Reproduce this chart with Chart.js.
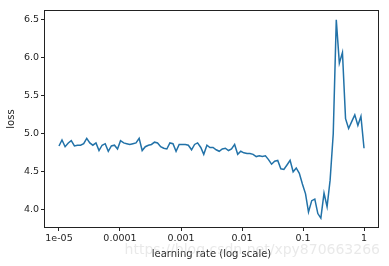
<!DOCTYPE html>
<html>
<head>
<meta charset="utf-8">
<script src="https://cdn.jsdelivr.net/npm/chart.js@4/dist/chart.umd.min.js"></script>
<style>
  html, body { margin: 0; padding: 0; background: #fff; }
  #c { display: block; }
</style>
</head>
<body>
<canvas id="c" width="389" height="266"></canvas>
<script>
// learning rates (x)
const learningRates = [
  1.00e-5, 1.12e-5, 1.26e-5, 1.42e-5, 1.59e-5, 1.79e-5, 2.01e-5, 2.26e-5, 2.54e-5, 2.85e-5,
  3.20e-5, 3.59e-5, 4.04e-5, 4.53e-5, 5.09e-5, 5.72e-5, 6.43e-5, 7.22e-5, 8.11e-5, 9.11e-5,
  1.02e-4, 1.15e-4, 1.29e-4, 1.45e-4, 1.63e-4, 1.83e-4, 2.06e-4, 2.31e-4, 2.60e-4, 2.92e-4,
  3.28e-4, 3.68e-4, 4.13e-4, 4.64e-4, 5.21e-4, 5.86e-4, 6.58e-4, 7.39e-4, 8.30e-4, 9.33e-4,
  1.05e-3, 1.18e-3, 1.32e-3, 1.49e-3, 1.67e-3, 1.87e-3, 2.11e-3, 2.36e-3, 2.66e-3, 2.98e-3,
  3.35e-3, 3.77e-3, 4.23e-3, 4.75e-3, 5.34e-3, 6.00e-3, 6.73e-3, 7.57e-3, 8.50e-3, 9.55e-3,
  1.07e-2, 1.21e-2, 1.35e-2, 1.52e-2, 1.71e-2, 1.92e-2, 2.15e-2, 2.42e-2, 2.72e-2, 3.05e-2,
  3.43e-2, 3.85e-2, 4.33e-2, 4.86e-2, 5.46e-2, 6.14e-2, 6.89e-2, 7.74e-2, 8.70e-2, 9.77e-2,
  1.10e-1, 1.23e-1, 1.39e-1, 1.56e-1, 1.75e-1, 1.96e-1, 2.21e-1, 2.48e-1, 2.78e-1, 3.13e-1,
  3.51e-1, 3.94e-1, 4.43e-1, 4.98e-1, 5.59e-1, 6.28e-1, 7.06e-1, 7.93e-1, 8.90e-1, 1.00
];
// loss values (y)
const lossValues = [
  4.84, 4.92, 4.83, 4.88, 4.91, 4.84, 4.85, 4.85, 4.87, 4.94,
  4.88, 4.85, 4.88, 4.78, 4.85, 4.87, 4.77, 4.84, 4.85, 4.80,
  4.91, 4.88, 4.87, 4.86, 4.87, 4.88, 4.94, 4.78, 4.83, 4.85,
  4.86, 4.89, 4.88, 4.83, 4.81, 4.80, 4.88, 4.87, 4.77, 4.86,
  4.86, 4.86, 4.85, 4.79, 4.86, 4.88, 4.82, 4.73, 4.85, 4.82,
  4.82, 4.79, 4.77, 4.80, 4.81, 4.78, 4.80, 4.86, 4.73, 4.77,
  4.75, 4.74, 4.74, 4.73, 4.70, 4.71, 4.70, 4.71, 4.66, 4.60,
  4.64, 4.65, 4.54, 4.53, 4.59, 4.65, 4.50, 4.55, 4.48, 4.34,
  4.21, 3.97, 4.12, 4.14, 3.95, 3.89, 4.22, 4.04, 4.39, 5.00,
  6.50, 5.93, 6.07, 5.20, 5.07, 5.16, 5.25, 5.11, 5.23, 4.81
];
const xTickValues = [1e-5, 1e-4, 1e-3, 1e-2, 1e-1, 1];
const xTickLabels = ['1e-05', '0.0001', '0.001', '0.01', '0.1', '1'];
const yTickValues = [4.0, 4.5, 5.0, 5.5, 6.0, 6.5];
const yTickLabels = ['4.0', '4.5', '5.0', '5.5', '6.0', '6.5'];
const xAxisTitle = 'learning rate (log scale)';
const yAxisTitle = 'loss';
const watermark = 'https://blog.csdn.net/xpy870663266';

const FONT = 'DejaVu Sans';
const TXT = '#1e1e1e';

const frame = {
  id: 'frame',
  afterDatasetsDraw(chart) {
    const a = chart.chartArea, ctx = chart.ctx;
    ctx.save();
    ctx.strokeStyle = '#222';
    ctx.lineWidth = 1;
    ctx.strokeRect(Math.round(a.left) + 0.5, Math.round(a.top) + 0.5,
                   Math.round(a.right - a.left) - 1, Math.round(a.bottom - a.top) - 1);
    ctx.restore();
  },
  afterDraw(chart) {
    const ctx = chart.ctx;
    ctx.save();
    ctx.globalAlpha = 0.4;
    ctx.fillStyle = '#c8c8c8';
    ctx.font = '14px "DejaVu Sans"';
    ctx.textAlign = 'right';
    ctx.textBaseline = 'middle';
    ctx.fillText(watermark, 380, 250);
    ctx.restore();
  }
};

new Chart(document.getElementById('c'), {
  type: 'line',
  data: {
    datasets: [{
      data: learningRates.map((x, i) => ({ x: x, y: lossValues[i] })),
      borderColor: '#2272a8',
      borderWidth: 1.5,
      pointRadius: 0,
      tension: 0,
      fill: false
    }]
  },
  options: {
    responsive: false,
    animation: false,
    devicePixelRatio: 1,
    layout: { padding: { top: 10, right: 10, left: 0, bottom: 0 } },
    plugins: { legend: { display: false }, tooltip: { enabled: false } },
    scales: {
      x: {
        type: 'logarithmic',
        min: 5.68e-6,
        max: 1.76,
        afterBuildTicks: s => { s.ticks = xTickValues.map(v => ({ value: v })); },
        afterFit: s => { s.height = 38; },
        border: { display: false },
        grid: { display: true, drawOnChartArea: false, drawTicks: true, tickLength: 3, color: '#222', lineWidth: 1 },
        ticks: {
          autoSkip: false, maxRotation: 0, padding: 2, color: TXT,
          font: { family: FONT, size: 9.5 },
          callback: v => {
            const i = xTickValues.findIndex(t => Math.abs(Math.log10(t) - Math.log10(v)) < 1e-6);
            return i >= 0 ? xTickLabels[i] : '';
          }
        },
        title: { display: true, text: xAxisTitle, color: TXT, font: { family: FONT, size: 10 }, padding: { top: 0, bottom: 6 } }
      },
      y: {
        type: 'linear',
        min: 3.76,
        max: 6.63,
        afterBuildTicks: s => { s.ticks = yTickValues.map(v => ({ value: v })); },
        afterFit: s => { s.width = 44; },
        border: { display: false },
        grid: { display: true, drawOnChartArea: false, drawTicks: true, tickLength: 3, color: '#222', lineWidth: 1 },
        ticks: {
          autoSkip: false, padding: 2, color: TXT,
          font: { family: FONT, size: 9.5 },
          callback: v => {
            const i = yTickValues.findIndex(t => Math.abs(t - v) < 1e-6);
            return i >= 0 ? yTickLabels[i] : '';
          }
        },
        title: { display: true, text: yAxisTitle, color: TXT, font: { family: FONT, size: 10 }, padding: { top: 5, bottom: 0 } }
      }
    }
  },
  plugins: [frame]
});
</script>
</body>
</html>
